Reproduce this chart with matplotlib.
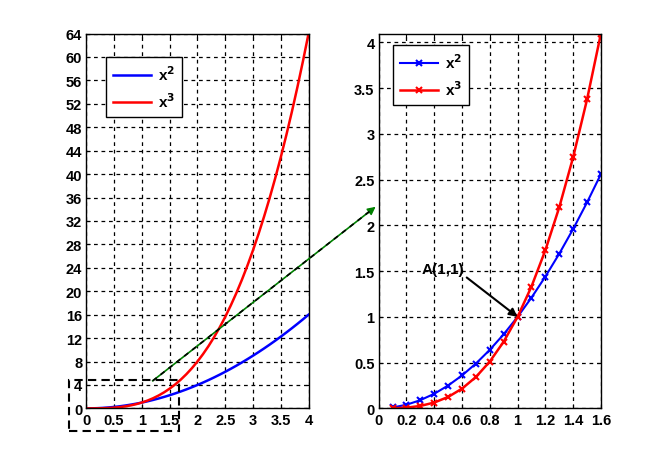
import numpy as np
import matplotlib.pyplot as plt
from matplotlib.lines import Line2D
from matplotlib.patches import Rectangle, FancyArrowPatch

# left: full range, right: zoom near (1,1)
x_full = [0.0, 0.1, 0.2, 0.3, 0.4, 0.5, 0.6, 0.7, 0.8, 0.9, 1.0, 1.1, 1.2, 1.3,
          1.4, 1.5, 1.6, 1.7, 1.8, 1.9, 2.0, 2.1, 2.2, 2.3, 2.4, 2.5, 2.6, 2.7,
          2.8, 2.9, 3.0, 3.1, 3.2, 3.3, 3.4, 3.5, 3.6, 3.7, 3.8, 3.9, 4.0]
x_zoom = [0.1, 0.2, 0.3, 0.4, 0.5, 0.6, 0.7, 0.8, 0.9, 1.0, 1.1, 1.2, 1.3, 1.4, 1.5, 1.6]

sq_full = np.array(x_full) ** 2
cu_full = np.array(x_full) ** 3
sq_zoom = np.array(x_zoom) ** 2
cu_zoom = np.array(x_zoom) ** 3

left_xticks = [0, 0.5, 1, 1.5, 2, 2.5, 3, 3.5, 4]
left_yticks = list(range(0, 65, 4))
right_xticks = [0, 0.2, 0.4, 0.6, 0.8, 1, 1.2, 1.4, 1.6]
right_yticks = [0, 0.5, 1, 1.5, 2, 2.5, 3, 3.5, 4]

plt.rcParams['font.family'] = ['Liberation Sans', 'DejaVu Sans']
plt.rcParams['mathtext.default'] = 'bf'

fig = plt.figure(figsize=(6.64, 4.6), dpi=100)
ax1 = fig.add_axes([0.13, 0.11, 0.3347, 0.815])
ax2 = fig.add_axes([0.5703, 0.11, 0.3347, 0.815])


def style_axes(ax, xt, yt):
    ax.set_xticks(xt)
    ax.set_yticks(yt)
    ax.set_xticklabels([('%g' % v) for v in xt], fontsize=10.5, fontweight='bold')
    ax.set_yticklabels([('%g' % v) for v in yt], fontsize=10.5, fontweight='bold')
    ax.tick_params(direction='in', top=True, right=True, length=3, width=0.8, pad=3)
    ax.grid(True, color='black', linestyle=(0, (3, 3)), linewidth=0.9)
    for s in ax.spines.values():
        s.set_linewidth(1.0)


legend_opts = dict(loc='upper left', borderaxespad=0, fancybox=False,
                   edgecolor='black', framealpha=1,
                   prop={'size': 11, 'weight': 'bold'},
                   handlelength=2.5, labelspacing=0.55, borderpad=0.45,
                   handletextpad=0.45)

ax1.plot(x_full, sq_full, color='blue', lw=1.8, label='x$^{2}$')
ax1.plot(x_full, cu_full, color='red', lw=1.8, label='x$^{3}$')
ax1.set_xlim(0, 4)
ax1.set_ylim(0, 64)
style_axes(ax1, left_xticks, left_yticks)
ax1.legend(bbox_to_anchor=(0.09, 0.936), **legend_opts)

ax2.plot(x_zoom, sq_zoom, color='blue', lw=1.5, marker='x', ms=4, mew=1.5, label='x$^{2}$')
ax2.plot(x_zoom, cu_zoom, color='red', lw=1.8, marker='x', ms=4, mew=1.5, label='x$^{3}$')
ax2.set_xlim(0, 1.6)
ax2.set_ylim(0, 1.6 ** 3)
style_axes(ax2, right_xticks, right_yticks)
ax2.legend(bbox_to_anchor=(0.063, 0.968), **legend_opts)

ax2.text(0.31, 1.52, 'A(1,1)', fontsize=11, fontweight='bold', va='center', ha='left')
ax2.annotate('', xy=(1, 1), xytext=(0.634, 1.43),
             arrowprops=dict(arrowstyle='-|>', color='black', lw=1.5,
                             mutation_scale=12, shrinkA=0, shrinkB=0))

# dashed box around the zoomed region on the left
fig.add_artist(Rectangle((69 / 664, 28.3 / 460), 110 / 664, 51 / 460,
                         transform=fig.transFigure, fill=False,
                         edgecolor='black', linestyle=(0, (4, 2.5)), lw=1.5))

# green/black dashed arrow from box to the right axes
x0, y0, x1, y1 = 0.23, 0.170, 0.569, 0.552
fig.add_artist(Line2D([x0, x1 - 0.01], [y0, y1 - 0.011], transform=fig.transFigure,
                      color='green', lw=1.2))
fig.add_artist(Line2D([x0, x1 - 0.01], [y0, y1 - 0.011], transform=fig.transFigure,
                      color='black', lw=1.2, linestyle=(0, (3, 3))))
fig.add_artist(FancyArrowPatch((x1 - 0.02, y1 - 0.0225), (x1, y1),
                               transform=fig.transFigure, arrowstyle='-|>',
                               mutation_scale=12, color='green', lw=1))

fig.savefig('out.png', dpi=100)
